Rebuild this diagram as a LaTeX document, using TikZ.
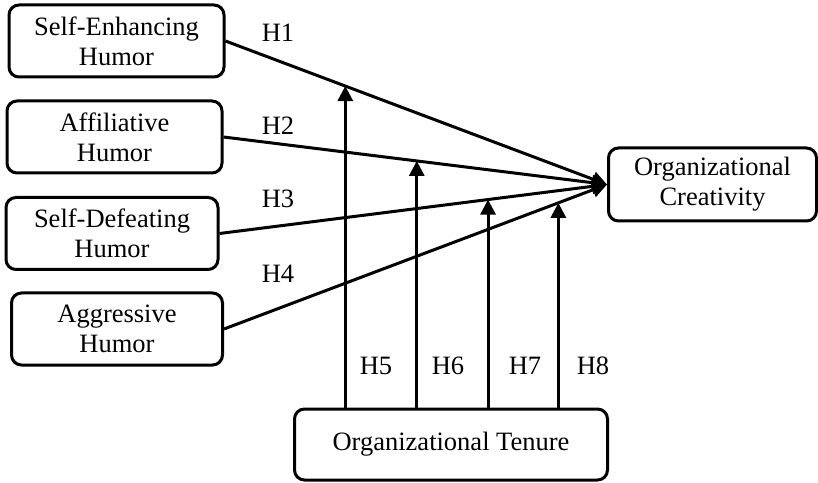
\documentclass[tikz,border=0pt]{standalone}
\usepackage{fontspec}
\setmainfont{Liberation Serif}
\usepackage{tikz}
\usetikzlibrary{calc}
\usetikzlibrary{arrows.meta}

\begin{document}
\begin{tikzpicture}[x=0.5pt, y=0.5pt]
    % --- Styles ---
    \tikzstyle{humorbox}=[draw, line width=1.5pt, rounded corners=5pt, align=center, inner sep=0pt, minimum height=36pt, font=\fontsize{13.25}{15}\selectfont]
    \tikzstyle{hyp}=[line width=1.5pt, -{Triangle[length=7.5pt, width=7.5pt]}]
    \tikzstyle{hyp_label}=[font=\fontsize{13.25}{15}\selectfont, inner sep=0pt]

    \useasboundingbox (0, 0) rectangle (818, 482);

    % --- 1. Boxes ---
    \node[humorbox, minimum width=107.5pt] (enh) at (116.5, 441) {Self-Enhancing\\Humor};
    \node[humorbox, minimum width=107.5pt] (aff) at (114.5, 345) {Affiliative\\Humor};
    \node[humorbox, minimum width=106pt] (def) at (112, 248.5) {Self-Defeating\\Humor};
    \node[humorbox, minimum width=105.5pt] (agg) at (117, 153) {Aggressive\\Humor};
    \node[humorbox, minimum width=104pt, minimum height=36.5pt] (crea) at (712.5, 297.5) {Organizational\\Creativity};
    \node[humorbox, minimum width=156.5pt, minimum height=35.5pt] (tenure) at (451, 37.5) {Organizational Tenure};

    % --- 2. Direct paths (H1 to H4) ---
    \draw[hyp] (enh.east) -- coordinate[pos=0.314] (m1) (crea.west);
    \draw[hyp] (aff.east) -- coordinate[pos=0.504] (m2) (crea.west);
    \draw[hyp] (def.east) -- coordinate[pos=0.693] (m3) (crea.west);
    \draw[hyp] (agg.east) -- coordinate[pos=0.873] (m4) (crea.west);

    \node[hyp_label] (h1) at (278, 449) {H1};
    \node[hyp_label] (h2) at (278, 356) {H2};
    \node[hyp_label] (h3) at (278, 283) {H3};
    \node[hyp_label] (h4) at (278, 208) {H4};

    % --- 3. Moderating paths (H5 to H8) ---
    \foreach \m in {m1, m2, m3, m4}
        \draw[hyp] (\m |- tenure.north) -- (\m);

    \node[hyp_label] (h5) at (376, 116) {H5};
    \node[hyp_label] (h6) at (448, 116) {H6};
    \node[hyp_label] (h7) at (525, 116) {H7};
    \node[hyp_label] (h8) at (593, 116) {H8};
\end{tikzpicture}
\end{document}
